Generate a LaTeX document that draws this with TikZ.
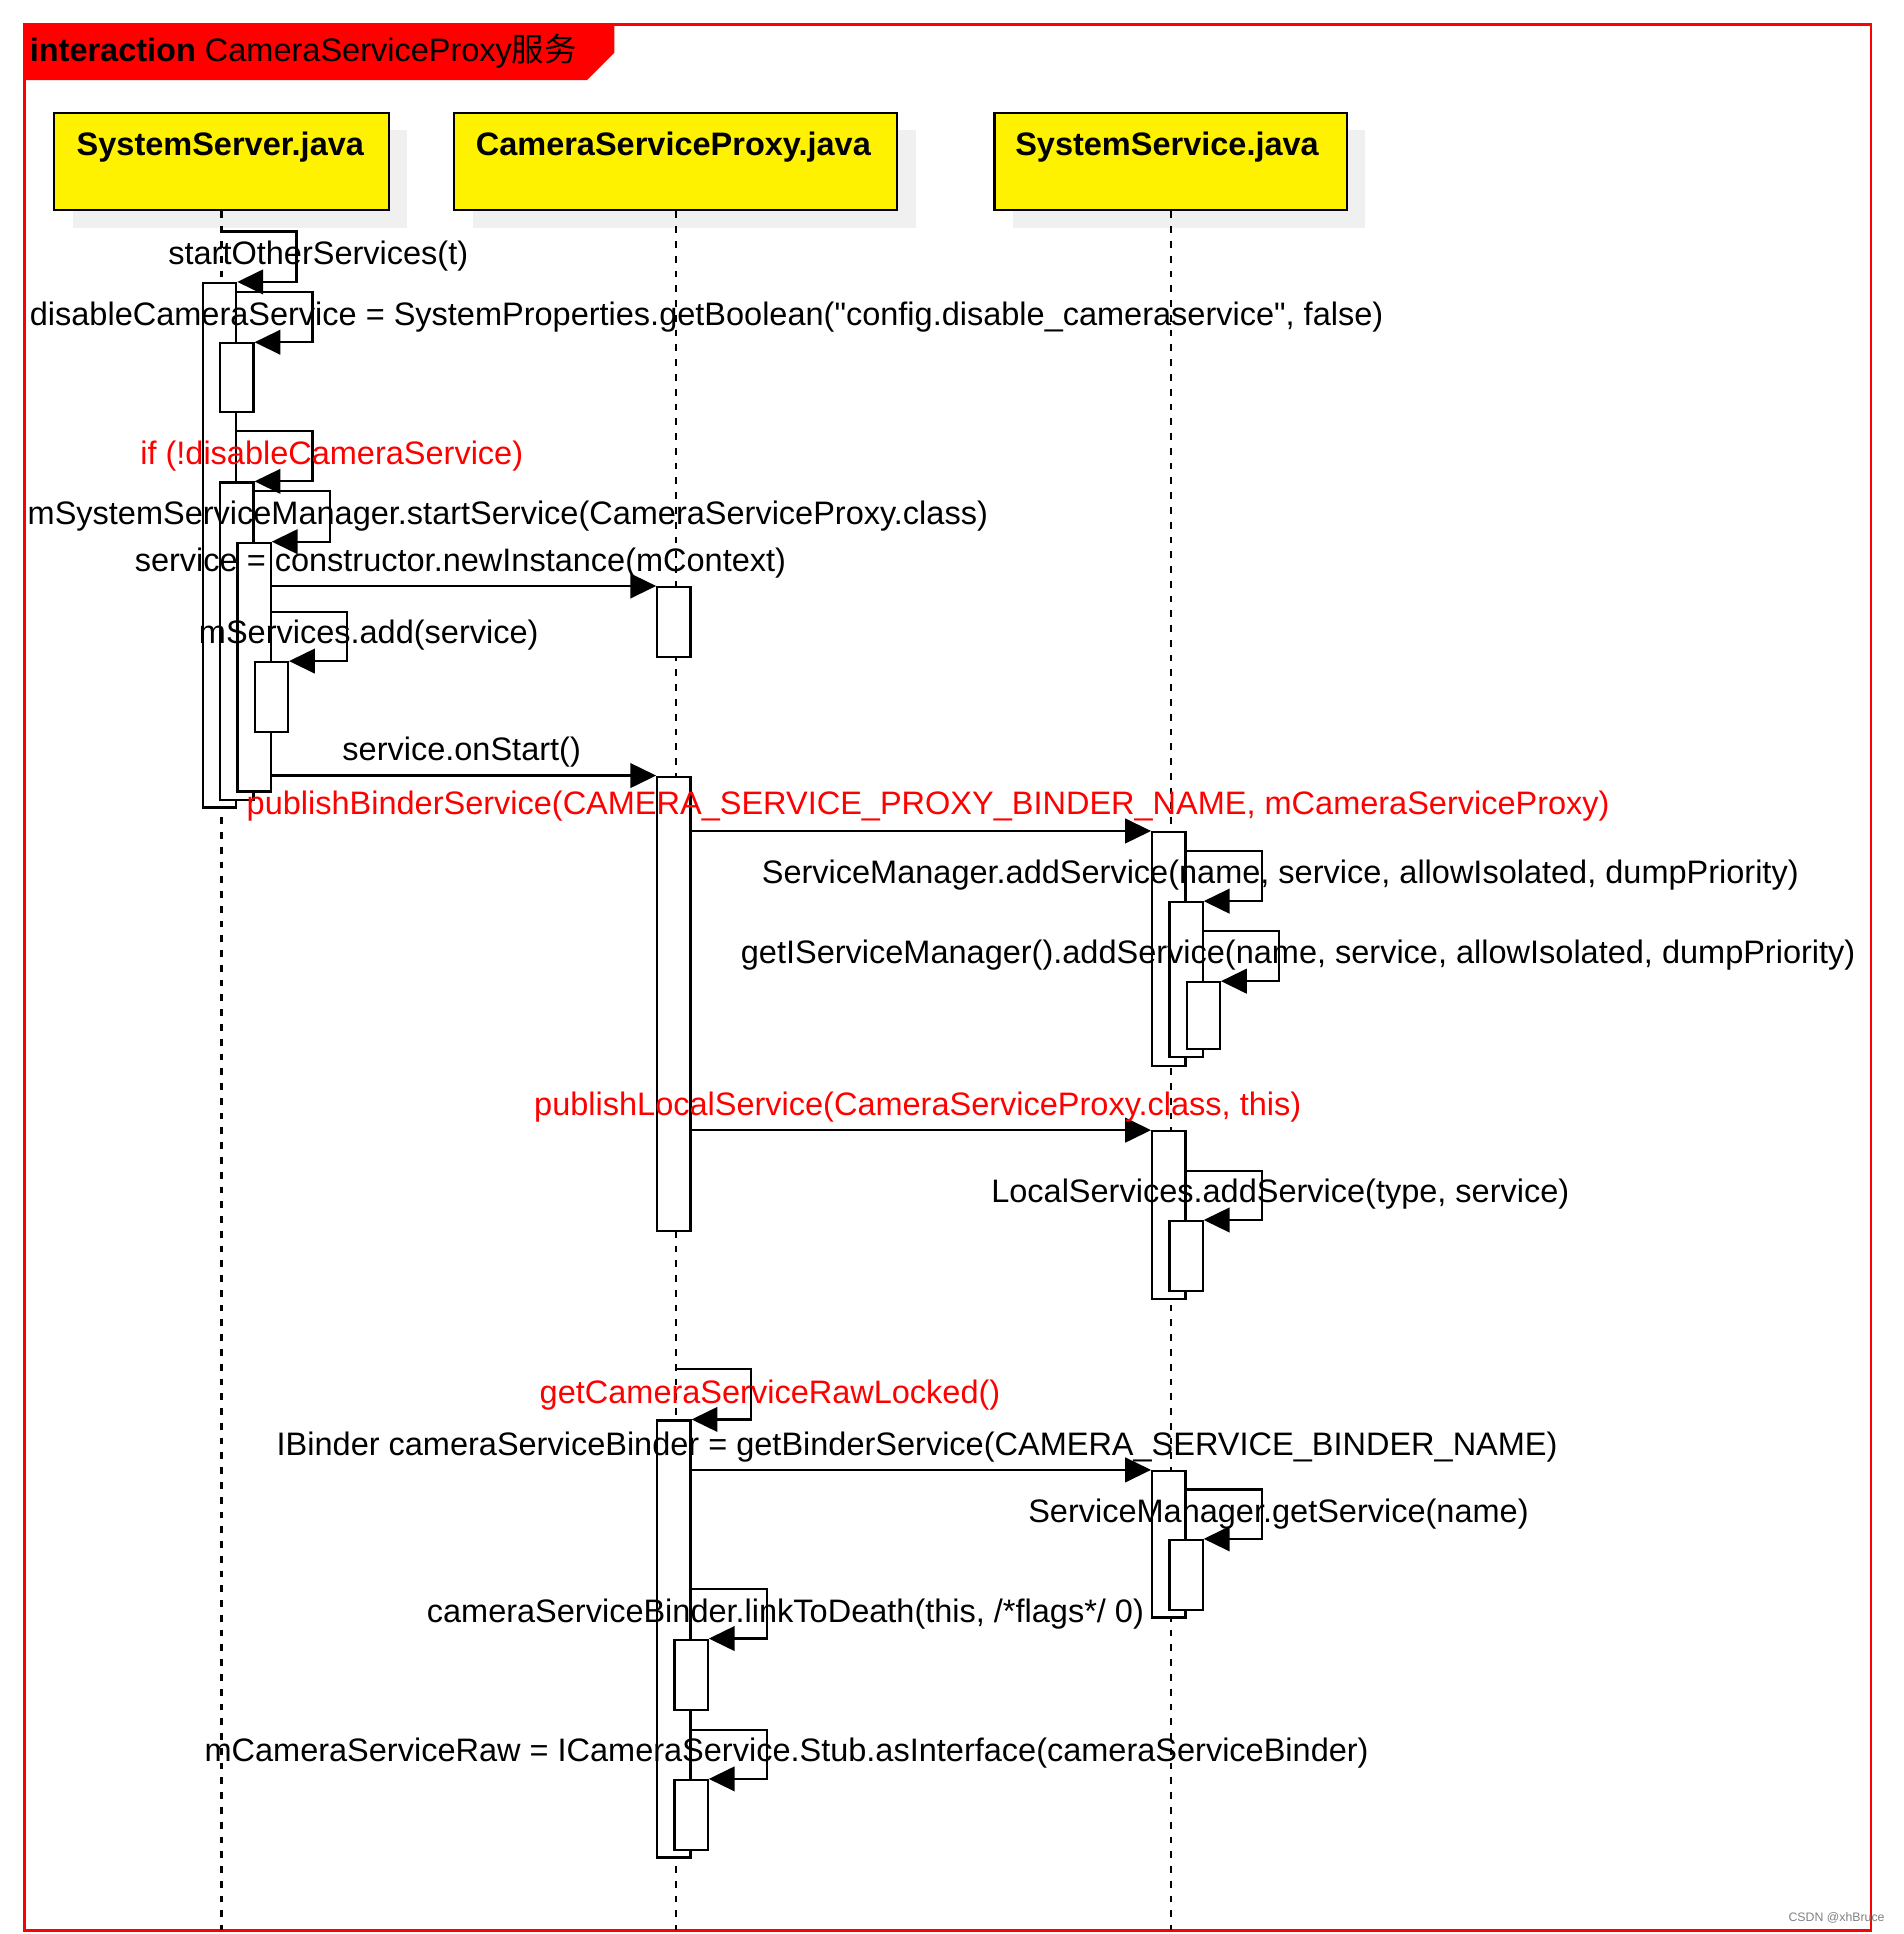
\documentclass[tikz,border=0pt]{standalone}
\usepackage{fontspec}
\newfontfamily\lsans{Liberation Sans}
\newfontfamily\cjkfont{Noto Sans CJK SC}
\usetikzlibrary{arrows.meta,shadows}
\begin{document}
\begin{tikzpicture}[x=1pt,y=-1pt,
  frame/.style={draw=red, line width=2pt, anchor=north west, inner sep=0pt, outer sep=0pt},
  head/.style={draw=black, line width=1.8pt, fill=yellow, anchor=north west, minimum height=79pt, inner sep=0pt,
    drop shadow={shadow xshift=15pt, shadow yshift=-14pt, fill=black!6, opacity=1}},
  lifeline/.style={line width=1.8pt, dash pattern=on 5.5pt off 6.5pt},
  act/.style={draw=black, fill=white, line width=1.8pt, anchor=north west, minimum width=27pt, inner sep=0pt},
  msg/.style={line width=1.8pt, -{Triangle[length=21pt,width=20pt]}},
  lbl/.style={anchor=base, inner sep=0pt, font=\lsans\fontsize{26.4}{30}\selectfont},
  redlbl/.style={lbl, text=red},
  headlbl/.style={anchor=base, inner sep=0pt, font=\lsans\bfseries\fontsize{26.4}{30}\selectfont}
]
\useasboundingbox (0,0) rectangle (1546,1571);
% frame and tab
\node[frame, minimum width=1500pt, minimum height=1548pt] (F) at (20,20) {};
\fill[red] (F.north west) -- ++(479,0) -- ++(0,23) -- ++(-22,22) -- ++(-457,0) -- cycle;
\node[anchor=base west, inner sep=0pt, font=\lsans\fontsize{26.4}{30}\selectfont] (tabt) at (24,50)
  {\textbf{interaction} CameraServiceProxy{\cjkfont 服务}};
% heads
\node[head, minimum width=272pt] (H1) at (43,91) {};
\node[head, minimum width=360pt] (H2) at (368,91) {};
\node[head, minimum width=286pt] (H3) at (807,91) {};
\node[headlbl] (H1t) at (179,126) {SystemServer.java};
\node[headlbl] (H2t) at (547,126) {CameraServiceProxy.java};
\node[headlbl] (H3t) at (948,126) {SystemService.java};
% lifelines
\draw[lifeline] (H1.south) -- (H1.south |- F.south);
\draw[lifeline] (H2.south) -- (H2.south |- F.south);
\draw[lifeline] (H3.south) -- (H3.south |- F.south);
% activations: SystemServer
\node[act, minimum height=426pt] (A1) at (164,229) {};
\node[act, minimum height=56pt]  (A2) at (178,278) {};
\node[act, minimum height=258pt] (A3) at (178,391) {};
\node[act, minimum height=202pt] (A4) at (192,440) {};
\node[act, minimum height=57pt]  (A5) at (206,537) {};
% CameraServiceProxy
\node[act, minimum height=57pt]  (B1) at (533,476) {};
\node[act, minimum height=369pt] (B2) at (533,630) {};
\node[act, minimum height=355pt] (B3) at (533,1153) {};
\node[act, minimum height=57pt]  (B4) at (547,1331) {};
\node[act, minimum height=57pt]  (B5) at (547,1445) {};
% SystemService
\node[act, minimum height=190pt] (C1) at (935,675) {};
\node[act, minimum height=126pt] (C2) at (949,732) {};
\node[act, minimum height=54pt]  (C3) at (963,797) {};
\node[act, minimum height=136pt] (C4) at (935,918) {};
\node[act, minimum height=57pt]  (C5) at (949,991) {};
\node[act, minimum height=119pt] (C6) at (935,1194) {};
\node[act, minimum height=57pt]  (C7) at (949,1250) {};
% messages
\draw[msg] (H1.south |- A1.north) ++(0,-41) -- ++(61,0) |- (A1.north east);
\draw[msg] (A1.east |- A2.north) ++(0,-41) -- ++(61,0) |- (A2.north east);
\draw[msg] (A1.east |- A3.north) ++(0,-41) -- ++(61,0) |- (A3.north east);
\draw[msg] (A3.east |- A4.north) ++(0,-41) -- ++(61,0) |- (A4.north east);
\draw[msg] (A4.east |- A5.north) ++(0,-40) -- ++(61,0) |- (A5.north east);
\draw[msg] (A4.east |- B1.north west) -- (B1.north west);
\draw[msg] (A4.east |- B2.north west) -- (B2.north west);
\draw[msg] (B2.east |- C1.north west) -- (C1.north west);
\draw[msg] (C1.east |- C2.north) ++(0,-41) -- ++(61,0) |- (C2.north east);
\draw[msg] (C2.east |- C3.north) ++(0,-41) -- ++(61,0) |- (C3.north east);
\draw[msg] (B2.east |- C4.north west) -- (C4.north west);
\draw[msg] (C4.east |- C5.north) ++(0,-40) -- ++(61,0) |- (C5.north east);
\draw[msg] (H2.south |- B3.north) ++(0,-41) -- ++(61,0) |- (B3.north east);
\draw[msg] (B3.east |- C6.north west) -- (C6.north west);
\draw[msg] (C6.east |- C7.north) ++(0,-40) -- ++(61,0) |- (C7.north east);
\draw[msg] (B3.east |- B4.north) ++(0,-40) -- ++(61,0) |- (B4.north east);
\draw[msg] (B3.east |- B5.north) ++(0,-40) -- ++(61,0) |- (B5.north east);
% labels
\node[lbl] (l1) at (258.5,215) {startOtherServices(t)};
\node[lbl] (l2) at (574,264) {disableCameraService = SystemProperties.getBoolean("config.disable\_cameraservice", false)};
\node[redlbl] (l3) at (269.5,377) {if (!disableCameraService)};
\node[lbl] (l4) at (412.5,426) {mSystemServiceManager.startService(CameraServiceProxy.class)};
\node[lbl] (l5) at (374,464) {service = constructor.newInstance(mContext)};
\node[lbl] (l6) at (299.5,523) {mServices.add(service)};
\node[lbl] (l7) at (375,618) {service.onStart()};
\node[redlbl] (l8) at (754,662) {publishBinderService(CAMERA\_SERVICE\_PROXY\_BINDER\_NAME, mCameraServiceProxy)};
\node[lbl] (l9) at (1040,718) {ServiceManager.addService(name, service, allowIsolated, dumpPriority)};
\node[lbl] (l10) at (1054.5,783) {getIServiceManager().addService(name, service, allowIsolated, dumpPriority)};
\node[redlbl] (l11) at (745.5,906) {publishLocalService(CameraServiceProxy.class, this)};
\node[lbl] (l12) at (1040,977) {LocalServices.addService(type, service)};
\node[redlbl] (l13) at (625.5,1140) {getCameraServiceRawLocked()};
\node[lbl] (l14) at (745,1182) {IBinder cameraServiceBinder = getBinderService(CAMERA\_SERVICE\_BINDER\_NAME)};
\node[lbl] (l15) at (1038.5,1237) {ServiceManager.getService(name)};
\node[lbl] (l16) at (638,1318) {cameraServiceBinder.linkToDeath(this, /*flags*/ 0)};
\node[lbl] (l17) at (639,1431) {mCameraServiceRaw = ICameraService.Stub.asInterface(cameraServiceBinder)};
\node[anchor=base east, inner sep=0pt, font=\lsans\fontsize{10}{12}\selectfont, text=gray] (wm) at (1531,1561) {CSDN @xhBruce};
\end{tikzpicture}
\end{document}
